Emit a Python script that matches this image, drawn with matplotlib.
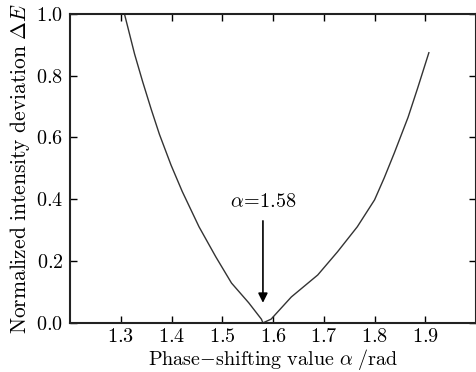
import matplotlib
matplotlib.use("Agg")
import matplotlib.pyplot as plt

plt.rcParams['font.family'] = ['Liberation Serif', 'DejaVu Serif']
plt.rcParams['mathtext.fontset'] = 'cm'

# curve
alpha = [1.307, 1.327, 1.343, 1.360, 1.376, 1.399, 1.421, 1.454, 1.487,
         1.518, 1.552, 1.577, 1.580, 1.596, 1.636, 1.688, 1.727, 1.766,
         1.800, 1.819, 1.839, 1.866, 1.885, 1.907]
dev = [1.0, 0.87, 0.78, 0.69, 0.61, 0.51, 0.425, 0.311, 0.214,
       0.129, 0.065, 0.012, 0.0, 0.012, 0.084, 0.155, 0.230, 0.311,
       0.398, 0.469, 0.550, 0.665, 0.760, 0.874]

alpha_min = 1.58
xticks = [1.3, 1.4, 1.5, 1.6, 1.7, 1.8, 1.9]
yticks = [0.0, 0.2, 0.4, 0.6, 0.8, 1.0]

fs = 14.5

fig = plt.figure(figsize=(4.77, 3.72), dpi=100)
ax = fig.add_axes([0.147, 0.132, 0.851, 0.831])
ax.plot(alpha, dev, "-", color="#333333", lw=1.0)

ax.annotate("", xy=(alpha_min, 0.065), xytext=(alpha_min, 0.33),
            arrowprops=dict(arrowstyle="-|>", color="black", lw=1.2,
                            mutation_scale=14, shrinkA=0, shrinkB=0))
ax.text(alpha_min, 0.375, r"$\alpha\!=\!1.58$", ha="center", va="baseline",
        fontsize=fs)

ax.set_xlim(1.2, 2.0)
ax.set_ylim(0, 1.0)
ax.set_xticks(xticks)
ax.set_yticks(yticks)
ax.set_xticklabels([r"$\mathrm{%.1f}$" % t for t in xticks])
ax.set_yticklabels([r"$\mathrm{%.1f}$" % t for t in yticks])
ax.tick_params(direction="in", top=True, right=True, length=5, width=1,
               labelsize=fs, pad=5)
ax.tick_params(axis="x", pad=4)
for s in ax.spines.values():
    s.set_linewidth(1.5)
    s.set_color("#222222")

ax.set_xlabel(r"$\mathrm{Phase{-}shifting\ value}\ \alpha\ \mathrm{/rad}$",
              fontsize=fs, labelpad=0)
ax.set_ylabel(r"$\mathrm{Normalized\ intensity\ deviation}\ \Delta E$",
              fontsize=15.5, labelpad=3)

fig.savefig("out.png", dpi=100)
